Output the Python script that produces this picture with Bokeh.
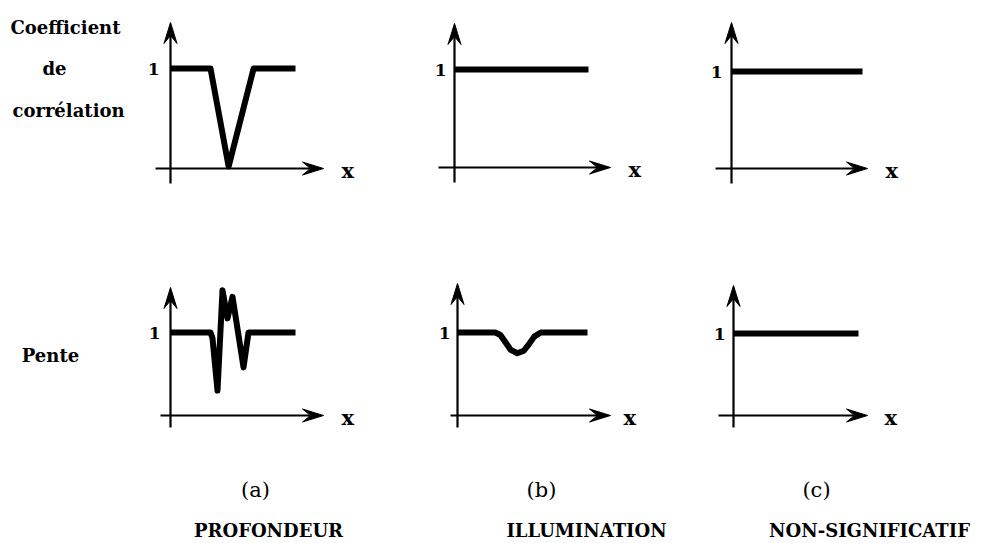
from bokeh.plotting import figure
from bokeh.models import Range1d
from bokeh.core.properties import value
from bokeh.embed import file_html
from bokeh.resources import INLINE

# ---------------- data (x in arbitrary units 0..10, y: 1 = reference level) ----------------
corr_a_x = [0, 3.2, 4.65, 6.65, 10]
corr_a_y = [1, 1, 0.02, 1, 1]
corr_b_x = [0, 10]
corr_b_y = [1, 1]
corr_c_x = [0, 10]
corr_c_y = [1, 1]

pente_a_x = [0, 3.2, 3.36, 3.76, 4.16, 4.56, 4.96, 5.84, 6.24, 10]
pente_a_y = [1, 1, 0.93, 0.3, 1.51, 1.17, 1.43, 0.58, 1.0, 1.0]
pente_b_x = [0, 2.9, 3.3, 3.7, 4.1, 4.6, 5.1, 5.5, 5.9, 6.4, 10]
pente_b_y = [1, 1, 0.97, 0.88, 0.79, 0.75, 0.78, 0.86, 0.95, 1, 1]
pente_c_x = [0, 10]
pente_c_y = [1, 1]

row_label_corr = ["Coefficient", "de", "corrélation"]
row_label_pente = "Pente"
panel_letters = ["(a)", "(b)", "(c)"]
panel_names = ["PROFONDEUR", "ILLUMINATION", "NON-SIGNIFICATIF"]
tick_label = "1"
axis_label = "x"

series = {
    "a1": (corr_a_x, corr_a_y), "b1": (corr_b_x, corr_b_y), "c1": (corr_c_x, corr_c_y),
    "a2": (pente_a_x, pente_a_y), "b2": (pente_b_x, pente_b_y), "c2": (pente_c_x, pente_c_y),
}

# ---------------- layout (page pixel coordinates) ----------------
panels = {
    "a1": dict(ox=170, oy=168, ly=68, top=22, bot=183, left=155, tip=323, ext=125, xl=341, one_dx=11),
    "b1": dict(ox=454, oy=167, ly=69, top=23, bot=182, left=438, tip=610, ext=134, xl=628, one_dx=8),
    "c1": dict(ox=731, oy=168, ly=71, top=22, bot=183, left=715, tip=867, ext=131, xl=885, one_dx=9),
    "a2": dict(ox=170, oy=415, ly=332, top=287, bot=427, left=160, tip=323, ext=125, xl=341, one_dx=10),
    "b2": dict(ox=457, oy=415, ly=332, top=283, bot=427, left=450, tip=610, ext=130, xl=623, one_dx=7),
    "c2": dict(ox=733, oy=415, ly=333, top=285, bot=427, left=718, tip=867, ext=125, xl=884, one_dx=8),
}

X0, X1, Y0, Y1 = 0, 985, 543, 0
p = figure(width=X1 - X0, height=Y0 - Y1, x_range=Range1d(X0, X1), y_range=Range1d(Y0, Y1),
           output_backend="svg", toolbar_location=None, min_border=0,
           x_axis_location=None, y_axis_location=None, background_fill_color="white")
p.grid.visible = False
p.outline_line_color = None

FONT = value("DejaVu Serif")
HEAD_L, HEAD_W, HEAD_N = 21, 6.5, 13

head_xs, head_ys = [], []
seg = dict(x0=[], y0=[], x1=[], y1=[])
one_x, one_y, xl_x, xl_y = [], [], [], []

for name, g in panels.items():
    xs = g["ext"] / 10.0
    ys = float(g["oy"] - g["ly"])
    p.extra_x_ranges[name] = Range1d((X0 - g["ox"]) / xs, (X1 - g["ox"]) / xs)
    p.extra_y_ranges[name] = Range1d((g["oy"] - Y0) / ys, (g["oy"] - Y1) / ys)
    sx, sy = series[name]
    p.line(sx, sy, x_range_name=name, y_range_name=name, line_width=6,
           line_color="black", line_join="round", line_cap="butt")

    ox, oy = g["ox"], g["oy"]
    seg["x0"] += [ox, g["left"]]
    seg["y0"] += [g["bot"], oy]
    seg["x1"] += [ox, g["tip"] - HEAD_N]
    seg["y1"] += [g["top"] + HEAD_N, oy]
    t = g["top"]
    head_xs.append([ox, ox - HEAD_W, ox, ox + HEAD_W])
    head_ys.append([t, t + HEAD_L, t + HEAD_N, t + HEAD_L])
    tp = g["tip"]
    head_xs.append([tp, tp - HEAD_L, tp - HEAD_N, tp - HEAD_L])
    head_ys.append([oy, oy - HEAD_W, oy, oy + HEAD_W])

    one_x.append(ox - g["one_dx"])
    one_y.append(g["ly"])
    xl_x.append(g["xl"])
    xl_y.append(oy + 2)

p.segment(x0="x0", y0="y0", x1="x1", y1="y1", source=seg, line_width=2.2, line_color="black")
p.patches(head_xs, head_ys, fill_color="black", line_color="black", line_width=1)

p.text(one_x, one_y, text=[tick_label] * len(one_x), text_font=FONT, text_font_style="bold",
       text_font_size=value("17px"), text_align="right", text_baseline="alphabetic", text_color="black")
p.text(xl_x, xl_y, text=[axis_label] * len(xl_x), text_font=FONT, text_font_style="bold",
       text_font_size=value("21px"), text_align="left", text_baseline="alphabetic", text_color="black")

p.text([65, 54, 68], [27, 68, 110], text=row_label_corr, text_font=FONT, text_font_style="bold",
       text_font_size=value("18px"), text_align="center", text_baseline="middle", text_color="black")
p.text([50], [355], text=[row_label_pente], text_font=FONT, text_font_style="bold",
       text_font_size=value("18px"), text_align="center", text_baseline="middle", text_color="black")

p.text([255, 541, 816], [489, 489, 489], text=panel_letters, text_font=FONT,
       text_font_size=value("21px"), text_align="center", text_baseline="middle", text_color="black")
p.text([268, 586, 869], [530, 530, 530], text=panel_names, text_font=FONT, text_font_style="bold",
       text_font_size=value("18px"), text_align="center", text_baseline="middle", text_color="black")

open("out.html", "w").write(file_html(p, INLINE))
